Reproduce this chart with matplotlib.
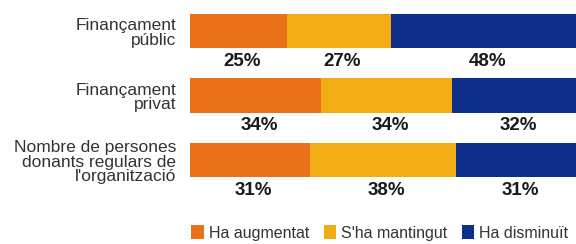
import numpy as np
import matplotlib
matplotlib.use("Agg")
import matplotlib.pyplot as plt
from matplotlib.patches import Patch

plt.rcParams['font.family'] = ['Liberation Sans', 'DejaVu Sans']

categories = ["Finançament\npúblic", "Finançament\nprivat",
              "Nombre de persones\ndonants regulars de\nl'organització"]
series = ["Ha augmentat", "S'ha mantingut", "Ha disminuït"]
augmentat = [25, 34, 31]
mantingut = [27, 34, 38]
disminuit = [48, 32, 31]
colors = ["#E8711A", "#F2AC16", "#0D2F8A"]

fig = plt.figure(figsize=(5.76, 2.44), dpi=100)
ax = fig.add_axes([190 / 576, 0, 386 / 576, 1])

values = [augmentat, mantingut, disminuit]
y = np.arange(len(categories))
left = np.zeros(len(categories))
for vals, col in zip(values, colors):
    vals = np.array(vals)
    ax.barh(y, vals, left=left, height=0.53, color=col, edgecolor='none')
    for yi, l, v in zip(y, left, vals):
        ax.text(l + v / 2 + 1, yi + 0.47, f"{v}%", ha='center', va='center',
                fontsize=13.5, fontweight='bold', color='#1a1a1a')
    left = left + vals

for yi, cat in zip(y, categories):
    ax.text(-3.6, yi + 0.03, cat, ha='right', va='center', fontsize=12.5,
            color='#333333', linespacing=0.97)

ax.set_xlim(0, 100)
ax.set_ylim(3.30, -0.48)
ax.axis('off')

handles = [Patch(facecolor=c, edgecolor='none') for c in colors]
fig.legend(handles, series, loc='lower left', bbox_to_anchor=(188 / 576, 0.0),
           ncol=3, frameon=False, fontsize=11.5, handlelength=0.8,
           handleheight=1.0, handletextpad=0.3, columnspacing=0.9,
           borderaxespad=0.1, borderpad=0.1, labelcolor='#333333')

fig.savefig("out.png", dpi=100)
